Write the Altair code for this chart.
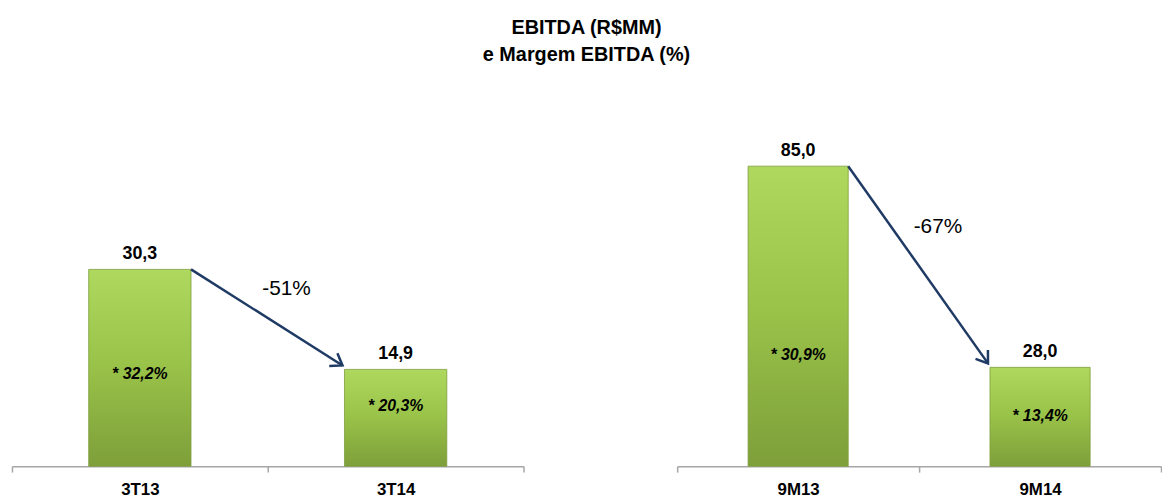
import math
import altair as alt
import pandas as pd

title_lines = ["EBITDA (R$MM)", "e Margem EBITDA (%)"]

periods_q = ["3T13", "3T14"]
ebitda_q = [30.3, 14.9]
margin_q = [32.2, 20.3]
change_q = "-51%"

periods_9m = ["9M13", "9M14"]
ebitda_9m = [85.0, 28.0]
margin_9m = [30.9, 13.4]
change_9m = "-67%"

FONT = "Liberation Sans"
H = 400
ARROW = "#1F3A64"


def br(v):
    return f"{v:.1f}".replace(".", ",")


def panel(periods, values, margins, change, width, ymax, mmax, band, pct_dy):
    df = pd.DataFrame({
        "period": periods,
        "value": values,
        "value_label": [br(v) for v in values],
        "margin": margins,
        "margin_label": ["* " + br(m) + "%" for m in margins],
    })
    arrow = pd.DataFrame({
        "from": [periods[0]], "to": [periods[1]],
        "v1": [values[0]], "v2": [values[1]],
        "vmid": [(values[0] + values[1]) / 2],
        "change": [change],
    })
    step = width / len(periods)
    ppu = H / ymax
    lo, hi = 0.5 - band / 2, 0.5 + band / 2
    dx = step * (1 + lo - hi) - 2
    dy = (values[0] - values[1]) * ppu - 4
    ang = math.degrees(math.atan2(dy, dx))

    xs = alt.Scale(domain=periods, paddingInner=0, paddingOuter=0)
    ys = alt.Scale(domain=[0, ymax], nice=False, zero=True)
    ms = alt.Scale(domain=[0, mmax], nice=False, zero=True)

    grad = alt.Gradient(
        gradient="linear",
        stops=[alt.GradientStop(color="#AED85E", offset=0),
               alt.GradientStop(color="#9BC54A", offset=0.45),
               alt.GradientStop(color="#7E9F3A", offset=1)],
        x1=0, x2=0, y1=0, y2=1,
    )

    bars = alt.Chart(df).mark_bar(
        color=grad, width=alt.RelativeBandSize(band),
        stroke="#7E9E3C", strokeWidth=0.8,
    ).encode(
        x=alt.X("period:N", scale=xs, title=None, sort=periods),
        y=alt.Y("value:Q", scale=ys, axis=None),
    )
    vlabels = alt.Chart(df).mark_text(
        font=FONT, fontSize=18, fontWeight="bold", color="black",
        baseline="alphabetic", dy=-10,
    ).encode(
        x=alt.X("period:N", scale=xs, title=None, sort=periods),
        y=alt.Y("value:Q", scale=ys, axis=None),
        text="value_label:N",
    )
    rule = alt.Chart(arrow).mark_rule(
        color=ARROW, strokeWidth=2.5, x2Offset=-2, y2Offset=-4,
    ).encode(
        x=alt.X("from:N", scale=xs, bandPosition=hi, title=None),
        x2=alt.X2("to:N", bandPosition=lo),
        y=alt.Y("v1:Q", scale=ys, axis=None),
        y2="v2:Q",
    )
    head = alt.Chart(arrow).mark_point(
        shape="M -1 -0.7 L 0 0 L -1 0.7", size=480, filled=False,
        stroke=ARROW, strokeWidth=2.5, angle=ang, opacity=1,
        xOffset=-2, yOffset=-4,
    ).encode(
        x=alt.X("to:N", scale=xs, bandPosition=lo, title=None),
        y=alt.Y("v2:Q", scale=ys, axis=None),
    )
    pct = alt.Chart(arrow).mark_text(
        font=FONT, fontSize=21, color="black", dx=19, dy=pct_dy,
    ).encode(
        x=alt.X("to:N", scale=xs, bandPosition=0, title=None),
        y=alt.Y("vmid:Q", scale=ys, axis=None),
        text="change:N",
    )
    mlabels = alt.Chart(df).mark_text(
        font=FONT, fontSize=16, fontWeight="bold", fontStyle="italic",
        color="black", dy=-4,
    ).encode(
        x=alt.X("period:N", scale=xs, title=None, sort=periods),
        y=alt.Y("margin:Q", scale=ms, axis=None),
        text="margin_label:N",
    )
    return alt.layer(bars, vlabels, rule, head, pct, mlabels).resolve_scale(
        y="independent"
    ).properties(width=width, height=H)


left = panel(periods_q, ebitda_q, margin_q, change_q, 516,
             H / 6.55, H / 2.77, 0.40, -31)
right = panel(periods_9m, ebitda_9m, margin_9m, change_9m, 488,
              H / 3.56, H / 3.49, 0.414, -40)

chart = alt.hconcat(left, right, spacing=153).properties(
    title=alt.TitleParams(
        text=title_lines, font=FONT, fontSize=20, fontWeight="bold",
        lineHeight=27, anchor="middle", offset=5, color="black",
    ),
    padding={"left": 3, "top": 8, "right": 0, "bottom": 0},
    background="white",
).configure_view(stroke=None).configure_axisX(
    domainColor="#A6A6A6", tickColor="#A6A6A6", domainWidth=1.5,
    tickWidth=1.5, tickSize=6, tickBand="extent", labelFont=FONT,
    labelFontSize=17, labelFontWeight="bold", labelColor="black",
    labelPadding=10, labelAngle=0, grid=False,
)

chart.save("out.html", embed_options={"renderer": "svg", "actions": False})
